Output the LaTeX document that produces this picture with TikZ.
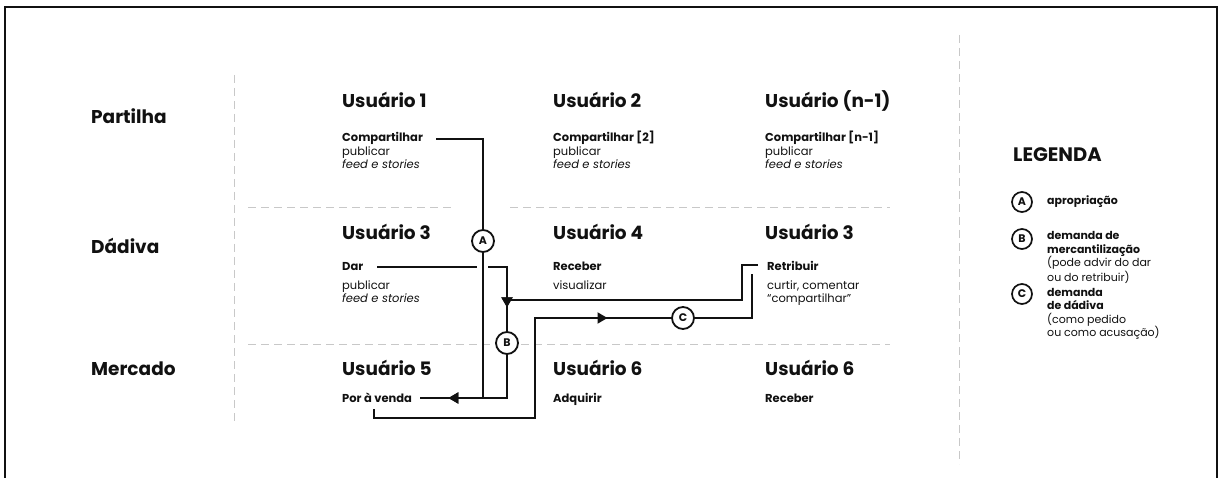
\documentclass[tikz,border=0pt]{standalone}
\usepackage{fontspec}
\setmainfont{Poppins}
\usetikzlibrary{arrows.meta,decorations.markings}
\definecolor{ink}{HTML}{111111}
\definecolor{gridgray}{HTML}{C8C8C8}
\tikzset{
  rowlab/.style={anchor=base west, inner sep=0pt, text=ink, font=\fontsize{18.5}{20}\selectfont\bfseries},
  utitle/.style={anchor=base west, inner sep=0pt, text=ink, font=\fontsize{18.5}{20}\selectfont\bfseries},
  legtitle/.style={anchor=base west, inner sep=0pt, text=ink, font=\fontsize{19.5}{21}\selectfont\bfseries},
  action/.style={anchor=base west, inner sep=0pt, text=ink, font=\fontsize{11.5}{13}\selectfont\bfseries},
  subtxt/.style={anchor=base west, inner sep=0pt, text=ink, font=\fontsize{11.5}{13}\selectfont},
  legtxt/.style={anchor=base west, inner sep=0pt, text=ink, font=\fontsize{11}{12}\selectfont},
  legbold/.style={legtxt, font=\fontsize{11}{12}\selectfont\bfseries},
  gridline/.style={draw=gridgray, line width=1pt, dash pattern=on 8pt off 5pt},
  conn/.style={draw=ink, line width=2pt},
  flowmark/.style={circle, draw=ink, fill=white, line width=1.8pt, minimum size=22pt, inner sep=0pt, text=ink, font=\fontsize{11}{11}\selectfont\bfseries},
  legmark/.style={flowmark, minimum size=20pt, line width=1.7pt},
  arrowat/.style={postaction={decorate}, decoration={markings, mark=at position #1 with {\arrow{Triangle[length=10pt,width=11pt]}}}},
}
\begin{document}
\begin{tikzpicture}[x=1pt,y=-1pt]
\useasboundingbox (0,0) rectangle (1220,478);
% frame
\draw[draw=ink, line width=2pt] (5,478) -- (5,7) -- (1217,7) -- (1217,478);
% grid
\draw[gridline] (234,75) -- (234,425);
\draw[gridline] (959,35) -- (959,464);
\draw[gridline] (248,208) -- (452,208);
\draw[gridline] (510,208) -- (890,208);
\draw[gridline] (248,344) -- (890,344);
% row labels
\node[rowlab] (lpart) at (91,124) {Partilha};
\node[rowlab] (ldad) at (91,254) {Dádiva};
\node[rowlab] (lmerc) at (91,375) {Mercado};
% row 1
\node[utitle] (u1) at (342,108) {Usuário 1};
\node[utitle] (u2) at (553,108) {Usuário 2};
\node[utitle] (un) at (765,108) {Usuário (n-1)};
\node[action] (c1) at (342,142) {Compartilhar};
\node[action] (c2) at (553,142) {Compartilhar [2]};
\node[action] (cn) at (765,142) {Compartilhar [n-1]};
\node[subtxt] (p1) at (342,155.5) {publicar};
\node[subtxt] (p2) at (553,155.5) {publicar};
\node[subtxt] (pn) at (765,155.5) {publicar};
\node[subtxt] (f1) at (342,169) {\itshape feed e stories};
\node[subtxt] (f2) at (553,169) {\itshape feed e stories};
\node[subtxt] (fn) at (765,169) {\itshape feed e stories};
% row 2
\node[utitle] (u3) at (342,240) {Usuário 3};
\node[utitle] (u4) at (553,240) {Usuário 4};
\node[utitle] (u3b) at (765,240) {Usuário 3};
\node[action] (dar) at (342,271) {Dar};
\node[action] (rec) at (553,271) {Receber};
\node[action] (ret) at (767,271) {Retribuir};
\node[subtxt] (p3) at (342,289) {publicar};
\node[subtxt] (f3) at (342,302) {\itshape feed e stories};
\node[subtxt] (vis) at (553,289) {visualizar};
\node[subtxt] (cur) at (767,289) {curtir, comentar};
\node[subtxt] (cmp) at (767,302) {“compartilhar”};
% row 3
\node[utitle] (u5) at (342,375) {Usuário 5};
\node[utitle] (u6) at (553,375) {Usuário 6};
\node[utitle] (u6b) at (765,375) {Usuário 6};
\node[action] (venda) at (342,402) {Por à venda};
\node[action] (adq) at (553,402) {Adquirir};
\node[action] (rec6) at (765,402) {Receber};
% connector coordinates
\coordinate (a0) at (436,139);
\coordinate (a1) at (483,139);
\coordinate (a2) at (483,398);
\coordinate (d0) at (377,267);
\coordinate (d1) at (477,267);
\coordinate (d2) at (488,267);
\coordinate (d3) at (507,267);
\coordinate (d4) at (507,398);
\coordinate (d5) at (420,398);
\coordinate (r0) at (758,265);
\coordinate (r1) at (742,265);
\coordinate (r2) at (742,300);
\coordinate (r3) at (507,300);
\coordinate (k0) at (374,409);
\coordinate (k1) at (374,418);
\coordinate (k2) at (535,418);
\coordinate (k3) at (535,318);
\coordinate (k4) at (752,318);
\coordinate (k5) at (752,274);
% connectors
\draw[conn] (a0) -- (a1) -- (a2);
\draw[conn] (d0) -- (d1);
\draw[conn, arrowat=0.25, arrowat=0.88] (d2) -- (d3) -- (d4) -- (d5);
\draw[conn] (r0) -- (r1) -- (r2) -- (r3);
\draw[conn, arrowat=0.645] (k0) -- (k1) -- (k2) -- (k3) -- (k4) -- (k5);
% marks
\node[flowmark] (mA) at (483,241) {A};
\node[flowmark] (mB) at (507,343) {B};
\node[flowmark] (mC) at (683,318) {C};
% legend
\node[legtitle] (leg) at (1013,162) {LEGENDA};
\node[legmark] (lA) at (1022,202) {A};
\node[legmark] (lB) at (1022,239) {B};
\node[legmark] (lC) at (1022,294) {C};
\node[legbold] (tA) at (1047,205) {apropriação};
\node[legbold] (tB1) at (1047,240) {demanda de};
\node[legbold] (tB2) at (1047,253.5) {mercantilização};
\node[legtxt] (tB3) at (1047,267) {(pode advir do dar};
\node[legtxt] (tB4) at (1047,281) {ou do retribuir)};
\node[legbold] (tC1) at (1047,296) {demanda};
\node[legbold] (tC2) at (1047,309.5) {de dádiva};
\node[legtxt] (tC3) at (1047,323) {(como pedido};
\node[legtxt] (tC4) at (1047,336.5) {ou como acusação)};
\end{tikzpicture}
\end{document}
